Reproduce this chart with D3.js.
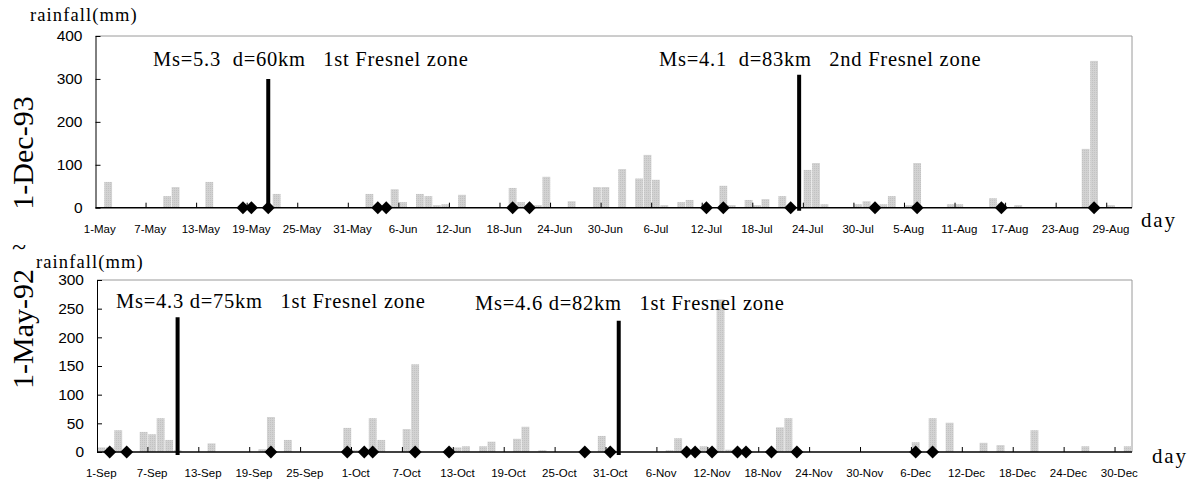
<!DOCTYPE html>
<html>
<head>
<meta charset="utf-8">
<script src="https://cdn.jsdelivr.net/npm/d3@7"></script>
<style>
  body { margin: 0; background: #fff; }
  svg { display: block; }
</style>
</head>
<body>
<svg id="chart"></svg>
<script>
// ---- upper panel : May - Aug ----
const rainDaysMA = ["2-May","9-May","10-May","14-May","22-May",
  "2-Jun","5-Jun","6-Jun","8-Jun","9-Jun","10-Jun","11-Jun","13-Jun","19-Jun","20-Jun","22-Jun","23-Jun","26-Jun","29-Jun","30-Jun",
  "2-Jul","4-Jul","5-Jul","6-Jul","7-Jul","9-Jul","10-Jul","14-Jul","15-Jul","17-Jul","18-Jul","19-Jul","21-Jul","24-Jul","25-Jul","26-Jul","30-Jul","31-Jul",
  "2-Aug","3-Aug","5-Aug","6-Aug","10-Aug","11-Aug","15-Aug","16-Aug","18-Aug","26-Aug","27-Aug","29-Aug"];
const rainMmMA = [60,27,48,60,32,
  32,43,13,32,27,6,8,30,46,13,6,72,15,48,48,
  90,68,123,65,6,13,18,51,6,18,6,20,27,88,104,8,8,15,
  8,27,6,104,8,8,22,10,6,137,342,6];
const quakeDaysMA = ["18-May","19-May","21-May","3-Jun","4-Jun","19-Jun","21-Jun","12-Jul","14-Jul","22-Jul","1-Aug","6-Aug","16-Aug","27-Aug"];
const eventDaysMA = ["21-May","23-Jul"];
const eventMmMA = [300, 310];
const eventTextMA = ["Ms=5.3  d=60km   1st Fresnel zone", "Ms=4.1  d=83km   2nd Fresnel zone"];
const yTicksMA = [0, 100, 200, 300, 400];

// ---- lower panel : Sep - Dec ----
const rainDaysSD = ["1-Sep","2-Sep","3-Sep","6-Sep","7-Sep","8-Sep","9-Sep","10-Sep","14-Sep","20-Sep","21-Sep","23-Sep","30-Sep",
  "1-Oct","3-Oct","4-Oct","7-Oct","8-Oct","13-Oct","14-Oct","16-Oct","17-Oct","20-Oct","21-Oct","23-Oct","30-Oct",
  "7-Nov","8-Nov","11-Nov","13-Nov","14-Nov","20-Nov","21-Nov",
  "6-Dec","8-Dec","10-Dec","14-Dec","16-Dec","20-Dec","26-Dec","31-Dec"];
const rainMmSD = [8,8,38,35,31,59,21,3,15,5,61,21,42,
  3,59,21,40,153,8,10,10,18,23,44,3,28,
  3,24,10,266,4,43,59,
  17,59,51,16,12,38,10,10];
const quakeDaysSD = ["2-Sep","4-Sep","21-Sep","30-Sep","2-Oct","3-Oct","8-Oct","12-Oct","28-Oct","31-Oct",
  "9-Nov","10-Nov","12-Nov","15-Nov","16-Nov","19-Nov","22-Nov","6-Dec","8-Dec"];
const eventDaysSD = ["10-Sep","1-Nov"];
const eventMmSD = [235, 229];
const eventTextSD = ["Ms=4.3 d=75km   1st Fresnel zone", "Ms=4.6 d=82km   1st Fresnel zone"];
const yTicksSD = [0, 50, 100, 150, 200, 250, 300];

const width = 1199, height = 484;
const serif = "'Liberation Serif', 'Times New Roman', serif";
const sans = "'Liberation Sans', Arial, sans-serif";
const fmt = d3.timeFormat("%-d-%b");

const svg = d3.select("#chart").attr("width", width).attr("height", height);

// light grey grain for the bars
const pat = svg.append("defs").append("pattern").attr("id", "grain")
  .attr("width", 2).attr("height", 2).attr("patternUnits", "userSpaceOnUse");
pat.append("rect").attr("width", 2).attr("height", 2).attr("fill", "#d2d2d2");
pat.append("rect").attr("width", 1).attr("height", 1).attr("fill", "#c2c2c2");

const panels = [
  { start: new Date(1993, 4, 1), end: new Date(1993, 8, 1), left: 95.5, right: 1132, top: 36, bottom: 207.7, yMax: 400,
    yTicks: yTicksMA, rainDays: rainDaysMA, rainMm: rainMmMA, quakes: quakeDaysMA,
    evDays: eventDaysMA, evMm: eventMmMA, evText: eventTextMA, textPos: [[153, 66], [659, 66]],
    yTitle: [30, 21], day: [1141, 227] },
  { start: new Date(1992, 8, 1), end: new Date(1993, 0, 1), left: 97, right: 1132, top: 280, bottom: 452, yMax: 300,
    yTicks: yTicksSD, rainDays: rainDaysSD, rainMm: rainMmSD, quakes: quakeDaysSD,
    evDays: eventDaysSD, evMm: eventMmSD, evText: eventTextSD, textPos: [[116, 308], [475, 310]],
    yTitle: [36, 268], day: [1152, 463] }
];

const drawPanel = (p) => {
  const days = d3.timeDay.range(p.start, p.end).map(fmt);
  const x = d3.scaleBand().domain(days).range([p.left, p.right]);
  const y = d3.scaleLinear().domain([0, p.yMax]).range([p.bottom, p.top]);
  const g = svg.append("g");

  // grey frame on top and right
  g.append("path")
    .attr("d", `M${p.left},${p.top}H${p.right}V${p.bottom}`)
    .attr("fill", "none").attr("stroke", "#9a9a9a").attr("stroke-width", 1);

  // rainfall bars
  g.selectAll("rect.bar").data(d3.zip(p.rainDays, p.rainMm)).join("rect")
    .attr("class", "bar")
    .attr("x", d => x(d[0]) + 0.3)
    .attr("width", x.bandwidth() - 0.6)
    .attr("y", d => y(d[1]))
    .attr("height", d => y(0) - y(d[1]))
    .attr("fill", "url(#grain)");

  // y axis
  const ya = g.append("g").attr("transform", `translate(${p.left},0)`)
    .call(d3.axisLeft(y).tickValues(p.yTicks).tickSizeInner(-5).tickSizeOuter(0).tickPadding(13));
  ya.select(".domain").attr("stroke", "#000");
  ya.selectAll(".tick line").attr("stroke", "#000");
  ya.selectAll("text").attr("font-family", sans).attr("font-size", 15.5).attr("fill", "#000");

  // x labels every 6 days, centred on the day
  const xa = g.append("g").attr("transform", `translate(0,${p.bottom})`)
    .call(d3.axisBottom(x).tickValues(days.filter((d, i) => i % 6 === 0)).tickSize(0).tickPadding(17));
  xa.select(".domain").remove();
  xa.selectAll("text").attr("font-family", sans).attr("font-size", 11.5).attr("fill", "#000");

  // tick marks on day boundaries
  g.selectAll("line.xt").data(days.filter((d, i) => i > 0 && i % 6 === 0)).join("line")
    .attr("class", "xt")
    .attr("x1", d => x(d)).attr("x2", d => x(d))
    .attr("y1", y(0)).attr("y2", y(0) - 5)
    .attr("stroke", "#000");

  // base line
  g.append("line")
    .attr("x1", p.left).attr("x2", p.right)
    .attr("y1", y(0)).attr("y2", y(0))
    .attr("stroke", "#000").attr("stroke-width", 1.5);

  // earthquake event lines
  g.selectAll("line.ev").data(d3.zip(p.evDays, p.evMm)).join("line")
    .attr("class", "ev")
    .attr("x1", d => x(d[0]) + x.bandwidth() / 2)
    .attr("x2", d => x(d[0]) + x.bandwidth() / 2)
    .attr("y1", d => y(d[1]))
    .attr("y2", y(0) + 3)
    .attr("stroke", "#000").attr("stroke-width", 4);

  // diamonds
  g.selectAll("path.q").data(p.quakes).join("path")
    .attr("class", "q")
    .attr("d", d3.symbol(d3.symbolSquare, 84))
    .attr("transform", d => `translate(${x(d) + x.bandwidth() / 2},${y(0)}) rotate(45)`)
    .attr("fill", "#000");

  // annotations
  g.selectAll("text.ann").data(p.evText).join("text")
    .attr("class", "ann")
    .attr("x", (d, i) => p.textPos[i][0])
    .attr("y", (d, i) => p.textPos[i][1])
    .style("white-space", "pre")
    .attr("font-family", serif).attr("font-size", 20.5).attr("letter-spacing", 0.75)
    .text(d => d);

  g.append("text")
    .attr("x", p.yTitle[0]).attr("y", p.yTitle[1])
    .attr("font-family", serif).attr("font-size", 18.5).attr("letter-spacing", 1.1)
    .text("rainfall(mm)");

  g.append("text")
    .attr("x", p.day[0]).attr("y", p.day[1])
    .attr("font-family", serif).attr("font-size", 21).attr("letter-spacing", 1.8)
    .text("day");
};

panels.forEach(drawPanel);

// period label on the left
svg.append("text")
  .attr("transform", "translate(33,153) rotate(-90)")
  .attr("text-anchor", "middle")
  .attr("font-family", serif).attr("font-size", 30)
  .text("1-Dec-93");
svg.append("text")
  .attr("transform", "translate(33,329) rotate(-90)")
  .attr("text-anchor", "middle")
  .attr("font-family", serif).attr("font-size", 30)
  .text("1-May-92");
svg.append("text")
  .attr("x", 19).attr("y", 255)
  .attr("text-anchor", "middle")
  .attr("font-family", serif).attr("font-size", 26)
  .text("~");
</script>
</body>
</html>
